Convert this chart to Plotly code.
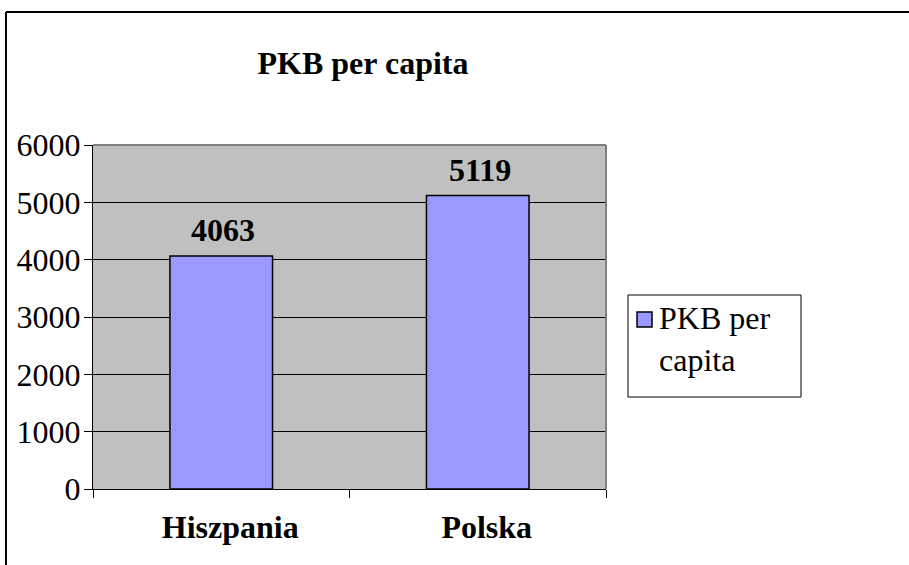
import plotly.graph_objects as go

categories = ["Hiszpania", "Polska"]
values = [4063, 5119]
series_name = "PKB per capita"
legend_label = "PKB per<br>capita"
y_ticks = [0, 1000, 2000, 3000, 4000, 5000, 6000]

W, H = 909, 565
L, R, T, B = 93, 606, 145, 489
FONT = "Liberation Serif"
FS = 32

def px(x):
    return (x - L) / (R - L)

def py(y):
    return (B - y) / (B - T)

fig = go.Figure()
fig.add_trace(go.Bar(
    x=categories, y=values, name=series_name,
    width=0.4,
    marker=dict(color="#9999FF", line=dict(color="black", width=1.5)),
    showlegend=False,
))

# data labels
for c, v in zip(categories, values):
    fig.add_annotation(x=c, y=v, xref="x", yref="y", text=f"<b>{v}</b>",
                       showarrow=False, xanchor="center", yanchor="bottom",
                       xshift=2, yshift=6,
                       font=dict(family=FONT, size=FS, color="black"))

fig.update_layout(
    width=W, height=H,
    margin=dict(l=L, r=W - R, t=T, b=H - B, pad=0),
    paper_bgcolor="white", plot_bgcolor="#C0C0C0",
    font=dict(family=FONT, color="black"),
    title=dict(text="<b>PKB per capita</b>", x=363 / W, xref="container", xanchor="center",
               y=1 - 63 / H, yref="container", yanchor="middle",
               font=dict(family=FONT, size=FS, color="black")),
    showlegend=False,
    bargap=0.6,
)
fig.update_yaxes(range=[0, 6000], tickvals=y_ticks, ticktext=[str(v) for v in y_ticks],
                 showgrid=True, gridcolor="black", gridwidth=1, zeroline=False,
                 showline=True, linecolor="black", linewidth=1,
                 ticks="outside", ticklen=8, tickcolor="black",
                 ticklabelstandoff=-3,
                 tickfont=dict(family=FONT, size=FS, color="black"))
fig.update_xaxes(showgrid=False, showline=True, linecolor="black", linewidth=1,
                 ticks="outside", ticklen=8, tickcolor="black", tickson="boundaries",
                 ticklabelstandoff=10, ticklabelshift=9,
                 tickfont=dict(family=FONT, size=FS, color="black", weight="bold"))

# plot-area border (top and right in gray)
fig.add_shape(type="line", xref="paper", yref="paper", x0=0, x1=1, y0=1, y1=1,
              line=dict(color="#808080", width=2))
fig.add_shape(type="line", xref="paper", yref="paper", x0=1, x1=1, y0=0, y1=1,
              line=dict(color="#808080", width=2))
# outer chart border (cropped at right and bottom)
fig.add_shape(type="line", xref="paper", yref="paper", x0=px(6), x1=px(W + 20), y0=py(12), y1=py(12),
              line=dict(color="black", width=2))
fig.add_shape(type="line", xref="paper", yref="paper", x0=px(6), x1=px(6), y0=py(12), y1=py(H + 20),
              line=dict(color="black", width=2))

# legend box
fig.add_shape(type="rect", xref="paper", yref="paper", x0=px(628), x1=px(801), y0=py(397), y1=py(295),
              line=dict(color="black", width=1), fillcolor="white")
fig.add_shape(type="rect", xref="paper", yref="paper", x0=px(637), x1=px(652), y0=py(327), y1=py(312),
              line=dict(color="black", width=1.5), fillcolor="#9999FF")
fig.add_annotation(x=px(657), y=py(298), xref="paper", yref="paper", text=legend_label,
                   showarrow=False, xanchor="left", yanchor="top", align="left",
                   font=dict(family=FONT, size=FS, color="black"))

fig.write_html("out.html", config={"displayModeBar": False},
               post_script="document.body.style.margin='0';document.body.style.overflow='hidden';")
